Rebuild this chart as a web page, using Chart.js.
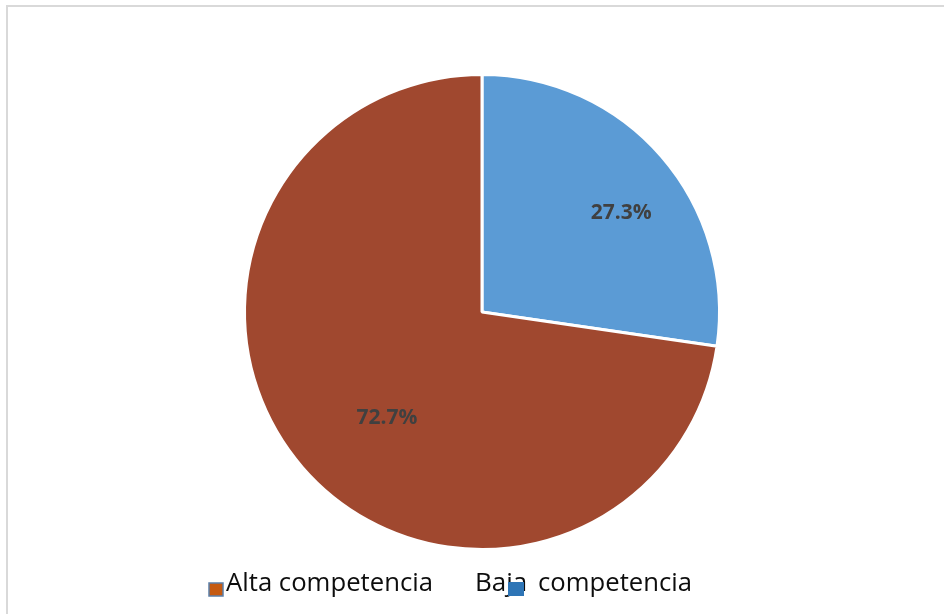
<!DOCTYPE html>
<html>
<head>
<meta charset="utf-8">
<script src="https://cdn.jsdelivr.net/npm/chart.js@4/dist/chart.umd.min.js"></script>
<style>
  html, body { margin: 0; padding: 0; background: #fff; }
  #wrap { position: relative; width: 944px; height: 614px; overflow: hidden; }
  #frame { position: absolute; left: 6px; top: 5px; width: 960px; height: 640px;
           border-top: 2px solid #d9d9d9; border-left: 2px solid #d9d9d9; }
  canvas { position: absolute; left: 0; top: 0; }
</style>
</head>
<body>
<div id="wrap">
  <div id="frame"></div>
  <canvas id="pieChart" width="944" height="614"></canvas>
</div>
<script>
// Data
const categories = ['Baja  competencia', 'Alta competencia'];
const values = [27.3, 72.7];
const sliceColors = ['#5b9bd5', '#a0482f'];

// Legend order and swatch colours as in the picture
const legendLabels = ['Alta competencia', 'Baja  competencia'];
const legendColors = ['#c55a11', '#2e75b6'];

// Draw the percentage labels inside the slices
const sliceLabels = {
    id: 'sliceLabels',
    afterDatasetsDraw(chart, args, opts) {
        const ctx = chart.ctx;
        const meta = chart.getDatasetMeta(0);
        ctx.save();
        ctx.font = 'bold 21px "Open Sans"';
        ctx.fillStyle = '#404040';
        ctx.textAlign = 'center';
        ctx.textBaseline = 'middle';
        meta.data.forEach((arc, i) => {
            const p = arc.getProps(['x', 'y', 'startAngle', 'endAngle', 'outerRadius'], true);
            const mid = (p.startAngle + p.endAngle) / 2 + opts.angleShift[i] * Math.PI / 180;
            const r = p.outerRadius * opts.radiusFactor[i];
            const x = p.x + Math.cos(mid) * r;
            const y = p.y + Math.sin(mid) * r;
            ctx.fillText(values[i].toFixed(1) + '%', x, y);
        });
        ctx.restore();
    }
};

// Legend drawn the way the original one sits (swatch of the 2nd item overlaps its text)
const bottomLegend = {
    id: 'bottomLegend',
    afterDraw(chart) {
        const ctx = chart.ctx;
        ctx.save();
        ctx.font = '26px "Open Sans"';
        ctx.textBaseline = 'alphabetic';
        const baseY = 591;
        // first item: swatch then text
        ctx.fillStyle = legendColors[0];
        ctx.fillRect(209, 583, 14, 13);
        ctx.strokeStyle = '#5b7fa8';
        ctx.lineWidth = 1.5;
        ctx.strokeRect(209, 583, 14, 13);
        ctx.fillStyle = '#0d0d0d';
        ctx.fillText(legendLabels[0], 226, baseY, 207);
        // second item: text split around the swatch
        const parts = legendLabels[1].split('  ');
        ctx.fillText(parts[0], 475, baseY, 55);
        ctx.fillText(parts[1], 538, baseY, 154);
        ctx.fillStyle = legendColors[1];
        ctx.fillRect(508, 582, 16, 14);
        ctx.restore();
    }
};

const chart = new Chart(document.getElementById('pieChart'), {
    type: 'pie',
    data: {
        labels: categories,
        datasets: [{
            data: values,
            backgroundColor: sliceColors,
            borderColor: '#ffffff',
            borderWidth: 3
        }]
    },
    options: {
        responsive: false,
        animation: false,
        layout: { padding: { top: 73, bottom: 63, left: 243, right: 223 } },
        plugins: {
            legend: { display: false },
            tooltip: { enabled: false },
            sliceLabels: { radiusFactor: [0.72, 0.6], angleShift: [5.4, -7.3] }
        }
    },
    plugins: [sliceLabels, bottomLegend]
});
</script>
</body>
</html>
